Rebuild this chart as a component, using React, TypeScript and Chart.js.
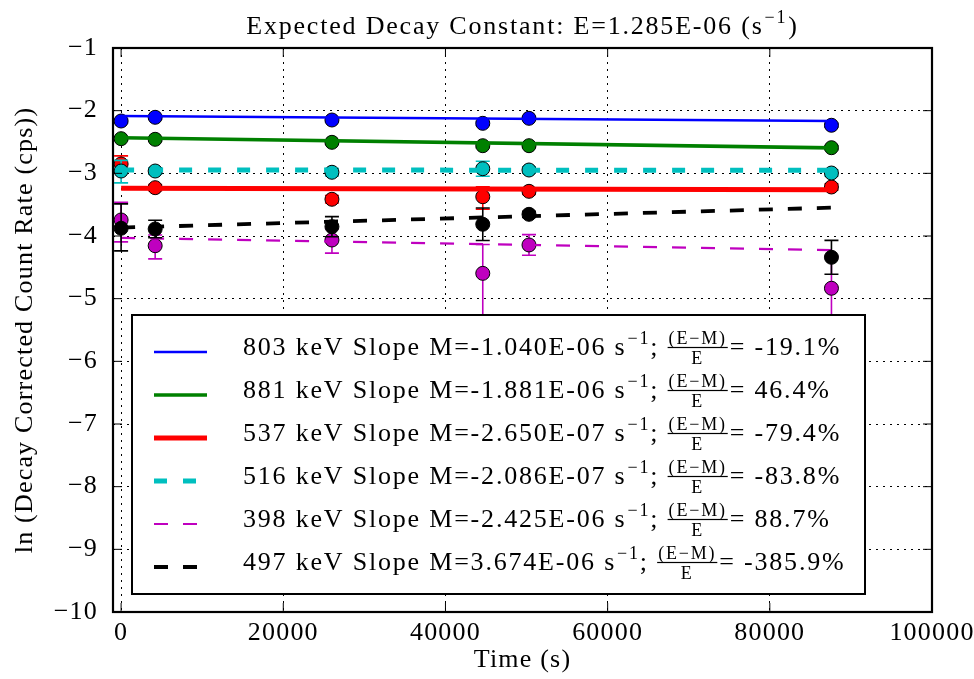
import React, { useEffect, useRef } from 'react';
import { Chart, registerables } from 'chart.js';

Chart.register(...registerables);

// ---------- data ----------
const times = [0, 4200, 26000, 44600, 50300, 87600];
const fitTimes = [0, 87600];
const xTickValues = [0, 20000, 40000, 60000, 80000, 100000];
const yTickValues = [-1, -2, -3, -4, -5, -6, -7, -8, -9, -10];

const energies = ['803', '881', '537', '516', '398', '497'];
const slopeLabels = ['-1.040E-06', '-1.881E-06', '-2.650E-07', '-2.086E-07', '-2.425E-06', '3.674E-06'];
const diffLabels = ['-19.1', '46.4', '-79.4', '-83.8', '88.7', '-385.9'];
const titleText = 'Expected Decay Constant: E=1.285E-06 (s';
const xTitle = 'Time (s)';
const yTitle = 'ln (Decay Corrected Count Rate (cps))';

const ln803 = [-2.165, -2.106, -2.149, -2.202, -2.122, -2.233];
const ln881 = [-2.447, -2.457, -2.505, -2.559, -2.559, -2.591];
const ln537 = [-2.851, -3.229, -3.414, -3.373, -3.287, -3.218];
const ln516 = [-2.963, -2.963, -2.983, -2.926, -2.947, -2.995];
const ln398 = [-3.744, -4.155, -4.064, -4.596, -4.143, -4.834];
const ln497 = [-3.877, -3.888, -3.851, -3.813, -3.654, -4.340];

const up803 = [0.03, 0.03, 0.03, 0.03, 0.03, 0.03];
const dn803 = [0.03, 0.03, 0.03, 0.03, 0.03, 0.03];
const up881 = [0.03, 0.03, 0.03, 0.03, 0.03, 0.03];
const dn881 = [0.03, 0.03, 0.03, 0.03, 0.03, 0.03];
const up537 = [0.13, 0.05, 0.06, 0.16, 0.05, 0.05];
const dn537 = [0.14, 0.05, 0.06, 0.2, 0.05, 0.05];
const up516 = [0.17, 0.05, 0.06, 0.12, 0.05, 0.05];
const dn516 = [0.19, 0.05, 0.06, 0.12, 0.05, 0.05];
const up398 = [0.28, 0.17, 0.18, 0.46, 0.165, 0.5];
const dn398 = [0.35, 0.21, 0.21, 3.4, 0.165, 3.0];
const up497 = [0.39, 0.14, 0.16, 0.26, 0.05, 0.27];
const dn497 = [0.36, 0.14, 0.16, 0.26, 0.05, 0.27];

const fit803 = [-2.085, -2.165];
const fit881 = [-2.432, -2.594];
const fit537 = [-3.24, -3.262];
const fit516 = [-2.947, -2.951];
const fit398 = [-4.03, -4.225];
const fit497 = [-3.866, -3.548];

// ---------- styles ----------
const colors = ['#0000ff', '#008000', '#ff0000', '#00bfbf', '#bf00bf', '#000000'];
const lineWidths = [2.4, 3.6, 5, 5, 2.2, 3.8];
const lineDashes: number[][] = [[], [], [], [13, 16], [14, 15], [14, 15]];

const seriesVals = [ln803, ln881, ln537, ln516, ln398, ln497];
const seriesUp = [up803, up881, up537, up516, up398, up497];
const seriesDn = [dn803, dn881, dn537, dn516, dn398, dn497];
const seriesFit = [fit803, fit881, fit537, fit516, fit398, fit497];

const FONT_FAMILY = '"Liberation Serif", "DejaVu Serif", serif';
const MAIN_SIZE = 26;
const SMALL_SIZE = 18;
const AXIS_SPACING = '1.2px';
const TEXT_SPACING = '1.8px';

const spacingPlugin = {
  id: 'spacing',
  beforeLayout(chart: any) {
    chart.ctx.letterSpacing = AXIS_SPACING;
  },
  beforeDraw(chart: any) {
    chart.ctx.letterSpacing = AXIS_SPACING;
  },
};

const errorBarPlugin = {
  id: 'errorBars',
  beforeDatasetDraw(chart: any, args: any) {
    const ds = chart.data.datasets[args.index];
    if (!ds.errUp) return;
    const { ctx, chartArea } = chart;
    const yScale = chart.scales.y;
    ctx.save();
    ctx.beginPath();
    ctx.rect(chartArea.left, chartArea.top, chartArea.right - chartArea.left, chartArea.bottom - chartArea.top);
    ctx.clip();
    ctx.strokeStyle = ds.errColor;
    ctx.lineWidth = 1.6;
    ctx.setLineDash([]);
    args.meta.data.forEach((pt: any, i: number) => {
      const v = ds.data[i].y;
      const yTop = yScale.getPixelForValue(v + ds.errUp[i]);
      const yBot = yScale.getPixelForValue(v - ds.errDn[i]);
      const x = pt.x;
      ctx.beginPath();
      ctx.moveTo(x, yTop);
      ctx.lineTo(x, yBot);
      ctx.moveTo(x - 7, yTop);
      ctx.lineTo(x + 7, yTop);
      ctx.moveTo(x - 7, yBot);
      ctx.lineTo(x + 7, yBot);
      ctx.stroke();
    });
    ctx.restore();
  },
};

const framePlugin = {
  id: 'frame',
  afterDatasetsDraw(chart: any) {
    const { ctx, chartArea } = chart;
    const { left, right, top, bottom } = chartArea;
    const xs = chart.scales.x;
    const ys = chart.scales.y;
    ctx.save();
    ctx.setLineDash([]);
    ctx.strokeStyle = '#000';
    ctx.lineWidth = 1;
    const tl = 9;
    ctx.beginPath();
    xTickValues.forEach((v) => {
      const px = xs.getPixelForValue(v);
      ctx.moveTo(px, bottom);
      ctx.lineTo(px, bottom - tl);
      ctx.moveTo(px, top);
      ctx.lineTo(px, top + tl);
    });
    yTickValues.forEach((v) => {
      const py = ys.getPixelForValue(v);
      ctx.moveTo(left, py);
      ctx.lineTo(left + tl, py);
      ctx.moveTo(right, py);
      ctx.lineTo(right - tl, py);
    });
    ctx.stroke();
    ctx.lineWidth = 2.2;
    ctx.strokeRect(left, top, right - left, bottom - top);
    ctx.restore();
  },
};

const annotationPlugin = {
  id: 'annotations',
  afterDraw(chart: any) {
    const { ctx, chartArea } = chart;
    const main = `${MAIN_SIZE}px ${FONT_FAMILY}`;
    const small = `${SMALL_SIZE}px ${FONT_FAMILY}`;
    ctx.save();
    ctx.setLineDash([]);
    ctx.letterSpacing = TEXT_SPACING;
    ctx.fillStyle = '#000';
    ctx.textBaseline = 'alphabetic';
    ctx.textAlign = 'left';

    // title
    ctx.font = main;
    const wMain = ctx.measureText(titleText).width;
    const wClose = ctx.measureText(')').width;
    ctx.font = small;
    const wSup = ctx.measureText('\u22121').width;
    const total = wMain + wSup + 2 + wClose;
    const cx = (chartArea.left + chartArea.right) / 2;
    let tx = cx - total / 2;
    const tBase = 34;
    ctx.font = main;
    ctx.fillText(titleText, tx, tBase);
    tx += wMain + 1;
    ctx.font = small;
    ctx.fillText('\u22121', tx, tBase - 11);
    tx += wSup + 1;
    ctx.font = main;
    ctx.fillText(')', tx, tBase);

    // legend box
    const bx = 132, by = 315, bw = 733, bh = 279;
    ctx.fillStyle = '#fff';
    ctx.fillRect(bx, by, bw, bh);
    ctx.strokeStyle = '#000';
    ctx.lineWidth = 2;
    ctx.strokeRect(bx, by, bw, bh);
    ctx.fillStyle = '#000';

    energies.forEach((e, i) => {
      const base = 355 + 43 * i;
      // sample line
      ctx.save();
      ctx.strokeStyle = colors[i];
      ctx.lineWidth = lineWidths[i];
      ctx.setLineDash(lineDashes[i]);
      ctx.beginPath();
      ctx.moveTo(154, base - 3);
      ctx.lineTo(207, base - 3);
      ctx.stroke();
      ctx.restore();

      let x = 243;
      const s1 = `${e} keV Slope M=${slopeLabels[i]} s`;
      ctx.font = main;
      ctx.fillText(s1, x, base);
      x += ctx.measureText(s1).width + 1;
      ctx.font = small;
      ctx.fillText('\u22121', x, base - 11);
      x += ctx.measureText('\u22121').width;
      ctx.font = main;
      ctx.fillText(';', x, base);
      x += ctx.measureText('; ').width;
      ctx.font = small;
      const num = '(E\u2212M)';
      const nw = ctx.measureText(num).width;
      const barY = base - 7.5;
      ctx.fillText(num, x + 1, barY - 4);
      ctx.fillRect(x, barY - 0.6, nw + 2, 1.2);
      ctx.textAlign = 'center';
      ctx.fillText('E', x + (nw + 2) / 2, barY + 16);
      ctx.textAlign = 'left';
      x += nw + 4;
      ctx.font = main;
      ctx.fillText(`= ${diffLabels[i]}%`, x, base);
    });
    ctx.restore();
  },
};

export default function App() {
  const canvasRef = useRef<HTMLCanvasElement | null>(null);

  useEffect(() => {
    document.body.style.margin = '0';
    const canvas = canvasRef.current;
    if (!canvas) return;

    const datasets: any[] = [];
    seriesVals.forEach((vals, s) => {
      datasets.push({
        label: `${energies[s]} keV points`,
        data: times.map((t, i) => ({ x: t, y: vals[i] })),
        showLine: false,
        pointRadius: 7,
        pointHoverRadius: 7,
        pointBackgroundColor: colors[s],
        pointBorderColor: '#000',
        pointBorderWidth: 1,
        errUp: seriesUp[s],
        errDn: seriesDn[s],
        errColor: colors[s],
        order: 100 - 2 * s,
      });
      datasets.push({
        label: `${energies[s]} keV fit`,
        data: fitTimes.map((t, i) => ({ x: t, y: seriesFit[s][i] })),
        showLine: true,
        pointRadius: 0,
        borderColor: colors[s],
        borderWidth: lineWidths[s],
        borderDash: lineDashes[s],
        borderCapStyle: 'butt',
        fill: false,
        tension: 0,
        order: 100 - 2 * s - 1,
      });
    });

    const tickFont = { family: FONT_FAMILY, size: MAIN_SIZE };

    const chart = new Chart(canvas, {
      type: 'scatter',
      data: { datasets },
      options: {
        responsive: false,
        animation: false,
        layout: { padding: { left: 0, right: 42, top: 48, bottom: 0 } },
        plugins: {
          legend: { display: false },
          title: { display: false },
          tooltip: { enabled: false },
        },
        scales: {
          x: {
            type: 'linear',
            min: -1000,
            max: 100000,
            afterBuildTicks: (scale: any) => {
              scale.ticks = xTickValues.map((v) => ({ value: v }));
            },
            afterFit: (scale: any) => {
              scale.height = 67;
              scale.paddingRight = 20;
              scale.paddingLeft = 0;
            },
            ticks: {
              font: tickFont,
              color: '#000',
              padding: 6,
              maxRotation: 0,
              autoSkip: false,
              callback: (v: any) => String(v),
            },
            grid: { color: '#000', lineWidth: 1, drawTicks: false, borderDash: [2, 5] } as any,
            border: { display: false, dash: [2, 5] },
            title: {
              display: true,
              text: xTitle,
              font: tickFont,
              color: '#000',
              padding: { top: 0, bottom: 3 },
            },
          },
          y: {
            type: 'linear',
            min: -10,
            max: -1,
            afterBuildTicks: (scale: any) => {
              scale.ticks = yTickValues.map((v) => ({ value: v }));
            },
            afterFit: (scale: any) => {
              scale.width = 113;
            },
            ticks: {
              font: tickFont,
              color: '#000',
              padding: 15,
              autoSkip: false,
              callback: (v: any) => (v < 0 ? '\u2212' + Math.abs(v) : String(v)),
            },
            grid: { color: '#000', lineWidth: 1, drawTicks: false, borderDash: [2, 5] } as any,
            border: { display: false, dash: [2, 5] },
            title: {
              display: true,
              text: yTitle,
              font: tickFont,
              color: '#000',
              padding: { top: 10, bottom: 0 },
            },
          },
        },
      } as any,
      plugins: [spacingPlugin, errorBarPlugin, framePlugin, annotationPlugin],
    });

    return () => {
      chart.destroy();
    };
  }, []);

  return (
    <div style={{ position: 'fixed', left: 0, top: 0, width: 974, height: 679, background: '#fff' }}>
      <canvas ref={canvasRef} width={974} height={679} />
    </div>
  );
}
